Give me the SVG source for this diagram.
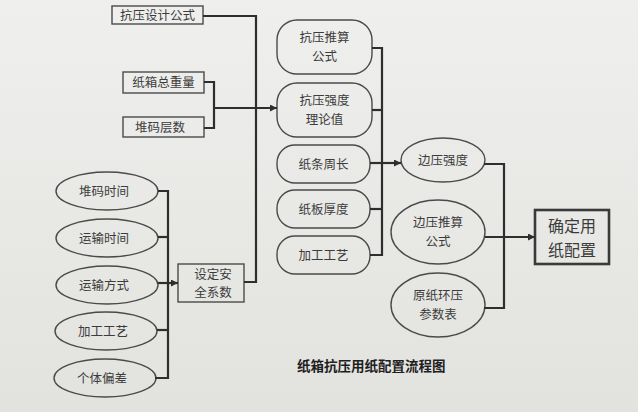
<svg xmlns="http://www.w3.org/2000/svg" width="638" height="412" viewBox="0 0 638 412">
<defs>
<linearGradient id="bg" x1="0" y1="0" x2="0" y2="1">
<stop offset="0" stop-color="#efefed"/>
<stop offset="1" stop-color="#e2e2df"/>
</linearGradient>
<marker id="arr" viewBox="0 0 10 10" refX="10" refY="5" markerWidth="7" markerHeight="7" markerUnits="userSpaceOnUse" orient="auto">
<path d="M0,0 L10,5 L0,10 z" fill="#2e2e2e"/>
</marker>
<style>
.n{fill:none;stroke:#4a4a4a;stroke-width:1.4}
.b{fill:none;stroke:#3a3a3a;stroke-width:2.6}
.t{font-family:"Noto Sans CJK SC","Noto Sans CJK TC",sans-serif;font-size:12.5px;fill:#3c3c3c;text-anchor:middle}
.big{font-size:16px}
.cap{font-size:13.5px;font-weight:bold;fill:#1e1e1e;text-anchor:start}
.c{fill:none;stroke:#2e2e2e;stroke-width:2.2}
</style>
</defs>
<rect width="638" height="412" fill="url(#bg)"/>

<g id="n_kyjsgs"><rect class="n" x="112" y="6" width="91" height="18"/><text class="t" x="157.5" y="19.5">抗压设计公式</text></g>
<g id="n_zxzzl"><rect class="n" x="123" y="72" width="81" height="21"/><text class="t" x="163.5" y="87">纸箱总重量</text></g>
<g id="n_dmcs"><rect class="n" x="123" y="117" width="81" height="20"/><text class="t" x="160" y="132">堆码层数</text></g>

<g id="n_dmsj"><ellipse class="n" cx="107" cy="191" rx="51" ry="19"/><text class="t" x="104" y="195.5">堆码时间</text></g>
<g id="n_yssj"><ellipse class="n" cx="107" cy="238" rx="51" ry="19"/><text class="t" x="104" y="242.5">运输时间</text></g>
<g id="n_ysfs"><ellipse class="n" cx="107" cy="285" rx="51" ry="19"/><text class="t" x="104" y="289.5">运输方式</text></g>
<g id="n_jggy1"><ellipse class="n" cx="106" cy="331" rx="51" ry="19"/><text class="t" x="103" y="335.5">加工工艺</text></g>
<g id="n_gtpc"><ellipse class="n" cx="105" cy="378" rx="51" ry="19"/><text class="t" x="102" y="382.5">个体偏差</text></g>

<g id="n_sdaqxs"><rect class="n" x="178" y="264" width="66" height="38"/><text class="t" x="213" y="279">设定安</text><text class="t" x="213" y="297">全系数</text></g>

<g id="n_kytsgs"><rect class="n" x="277" y="20" width="95" height="54" rx="20" ry="20"/><text class="t" x="324.5" y="42">抗压推算</text><text class="t" x="324.5" y="61">公式</text></g>
<g id="n_kyqdllz"><rect class="n" x="277" y="83" width="95" height="54" rx="20" ry="20"/><text class="t" x="324.5" y="105">抗压强度</text><text class="t" x="324.5" y="124">理论值</text></g>
<g id="n_ztzc"><rect class="n" x="277" y="145" width="93" height="38" rx="18" ry="18"/><text class="t" x="323.5" y="168.5">纸条周长</text></g>
<g id="n_zbhd"><rect class="n" x="277" y="190" width="93" height="38" rx="18" ry="18"/><text class="t" x="323.5" y="213.5">纸板厚度</text></g>
<g id="n_jggy2"><rect class="n" x="277" y="236" width="93" height="38" rx="18" ry="18"/><text class="t" x="323.5" y="259.5">加工工艺</text></g>

<g id="n_byqd"><ellipse class="n" cx="443" cy="160" rx="42" ry="22"/><text class="t" x="443" y="164.5">边压强度</text></g>
<g id="n_bytsgs"><ellipse class="n" cx="438" cy="232" rx="47" ry="32"/><text class="t" x="438" y="227">边压推算</text><text class="t" x="438" y="246">公式</text></g>
<g id="n_yzhycsb"><ellipse class="n" cx="438" cy="305" rx="47" ry="32"/><text class="t" x="438" y="300">原纸环压</text><text class="t" x="438" y="319">参数表</text></g>

<g id="n_qdyzpz"><rect class="b" x="535" y="210" width="74" height="54"/><text class="t big" x="572" y="232">确定用</text><text class="t big" x="572" y="255.5">纸配置</text></g>

<g id="connectors">
<polyline class="c" points="203,16 256,16 256,282 244,282"/>
<polyline class="c" points="204,82 214,82 214,128 204,128"/>
<line class="c" x1="214" y1="108" x2="277" y2="108" marker-end="url(#arr)"/>
<polyline class="c" points="158,191 168,191 168,378 155,378"/>
<line class="c" x1="158" y1="237" x2="168" y2="237"/>
<line class="c" x1="157" y1="330" x2="168" y2="330"/>
<line class="c" x1="158" y1="283" x2="178" y2="283" marker-end="url(#arr)"/>
<polyline class="c" points="372,48 382,48 382,255 370,255"/>
<line class="c" x1="372" y1="110" x2="382" y2="110"/>
<line class="c" x1="370" y1="209" x2="382" y2="209"/>
<line class="c" x1="370" y1="163" x2="401" y2="163" marker-end="url(#arr)"/>
<polyline class="c" points="484,164 504,164 504,308 484,308"/>
<line class="c" x1="485" y1="237" x2="535" y2="237" marker-end="url(#arr)"/>
</g>

<text class="t cap" x="297" y="371">纸箱抗压用纸配置流程图</text>
</svg>
